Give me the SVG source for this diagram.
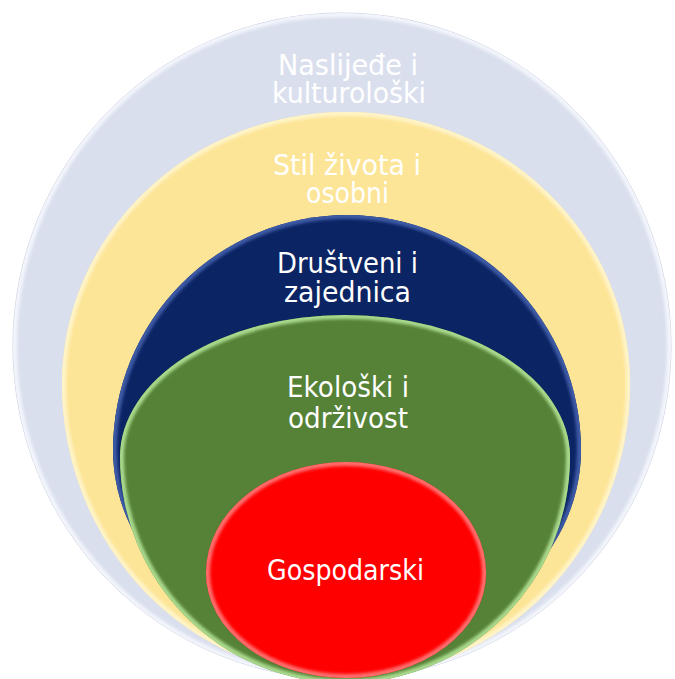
<svg xmlns="http://www.w3.org/2000/svg" xmlns:xlink="http://www.w3.org/1999/xlink" width="675" height="679" viewBox="0 0 675 679">
<style>
  .lbl{font-family:"DejaVu Sans","Liberation Sans",sans-serif;font-size:28px;fill:#ffffff;text-anchor:middle}
  .rim{fill:none;stroke-width:8;filter:url(#soft)}
</style>
<defs>
  <filter id="soft" x="-5%" y="-5%" width="110%" height="110%"><feGaussianBlur stdDeviation="1.8"/></filter>
  <ellipse id="s1" cx="342" cy="346" rx="329" ry="333"/>
  <path id="s2" d="M62,384 A284,272 0 0 1 630,384 A284,294 0 0 1 62,384 Z"/>
  <path id="s3" d="M113,450 A234,235 0 0 1 581,450 A234,200 0 0 1 113,450 Z"/>
  <path id="s4" d="M120,457 A225,142 0 0 1 570,457 A225,226 0 0 1 120,457 Z"/>
  <path id="s5" d="M206,573 A140,111 0 0 1 486,573 A140,105 0 0 1 206,573 Z"/>
  <clipPath id="c1"><use xlink:href="#s1"/></clipPath>
  <clipPath id="c2"><use xlink:href="#s2"/></clipPath>
  <clipPath id="c3"><use xlink:href="#s3"/></clipPath>
  <clipPath id="c4"><use xlink:href="#s4"/></clipPath>
  <clipPath id="c5"><use xlink:href="#s5"/></clipPath>
</defs>
<rect width="675" height="679" fill="#ffffff"/>

<g id="n-heritage">
  <use xlink:href="#s1" fill="#DADFEE" stroke="#c9cfdf" stroke-width="1"/>
  <g clip-path="url(#c1)"><use xlink:href="#s1" class="rim" stroke="#f3f5fb"/></g>
  <text class="lbl"><tspan x="348" y="75" textLength="140" lengthAdjust="spacingAndGlyphs">Naslijeđe i</tspan><tspan x="349" y="103" textLength="154" lengthAdjust="spacingAndGlyphs">kulturološki</tspan></text>
</g>

<g id="n-lifestyle">
  <use xlink:href="#s2" fill="#FDE597"/>
  <g clip-path="url(#c2)"><use xlink:href="#s2" class="rim" stroke="#fff4c8"/></g>
  <text class="lbl"><tspan x="347" y="175" textLength="148" lengthAdjust="spacingAndGlyphs">Stil života i</tspan><tspan x="347.5" y="203" textLength="83" lengthAdjust="spacingAndGlyphs">osobni</tspan></text>
</g>

<g id="n-social">
  <use xlink:href="#s3" fill="#0B2463"/>
  <g clip-path="url(#c3)"><use xlink:href="#s3" class="rim" stroke="#3d5aa6"/></g>
  <text class="lbl"><tspan x="347.5" y="273" textLength="141" lengthAdjust="spacingAndGlyphs">Društveni i</tspan><tspan x="347.5" y="302" textLength="127" lengthAdjust="spacingAndGlyphs">zajednica</tspan></text>
</g>

<g id="n-eco">
  <use xlink:href="#s4" fill="#568237"/>
  <g clip-path="url(#c4)"><use xlink:href="#s4" class="rim" stroke="#a9d98c"/></g>
  <text class="lbl"><tspan x="348" y="397" textLength="122" lengthAdjust="spacingAndGlyphs">Ekološki i</tspan><tspan x="348" y="428" textLength="120" lengthAdjust="spacingAndGlyphs">održivost</tspan></text>
</g>

<g id="n-economic">
  <use xlink:href="#s5" fill="#FF0000"/>
  <g clip-path="url(#c5)"><use xlink:href="#s5" class="rim" stroke="#ff8a8a" stroke-opacity="0.8"/></g>
  <text class="lbl" x="345.5" y="580" textLength="157" lengthAdjust="spacingAndGlyphs">Gospodarski</text>
</g>

<g id="connectors"/>
</svg>
